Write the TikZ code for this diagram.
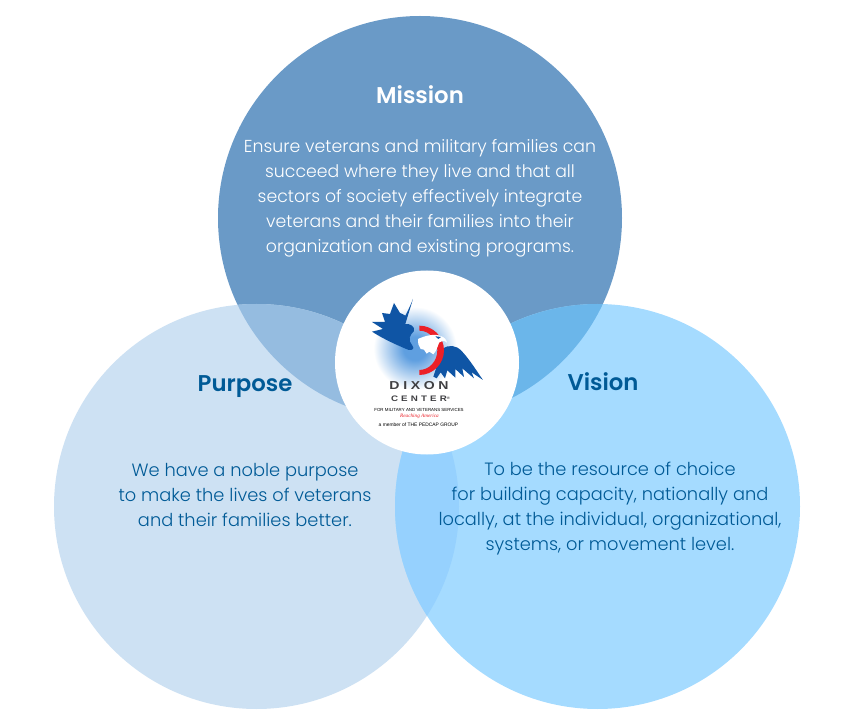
\documentclass[tikz,border=0pt]{standalone}
\usepackage{fontspec}
\setmainfont{Poppins Light}[BoldFont={Poppins SemiBold}]
\newfontfamily\logosans{Liberation Sans}
\newfontfamily\logoserif{Liberation Serif}
\definecolor{cMission}{HTML}{6A9AC7}
\definecolor{cPurpose}{HTML}{CDE1F3}
\definecolor{cVision}{HTML}{A5DBFF}
\definecolor{cPM}{HTML}{95BCE0}
\definecolor{cMV}{HTML}{6BB6EA}
\definecolor{cPV}{HTML}{96D1FE}
\definecolor{cNavy}{HTML}{005A96}
\definecolor{cBlue}{HTML}{0F55A5}
\definecolor{cRed}{HTML}{EC2027}
\definecolor{cGrey}{HTML}{3F3F42}
\definecolor{cGlow}{HTML}{5F9FE0}
\pgfdeclareradialshading{logoglow}{\pgfpoint{0bp}{0bp}}{color(0bp)=(cGlow); color(7bp)=(cGlow); color(25bp)=(white); color(50bp)=(white)}
\tikzset{
  heading/.style={font=\fontsize{22.8}{28}\selectfont\bfseries,inner sep=0pt},
  bodytext/.style={font=\fontsize{17.3}{25}\selectfont,align=center,inner sep=0pt},
  lowertext/.style={font=\fontsize{17.8}{25}\selectfont,align=center,inner sep=0pt,text=cNavy},
  logotext/.style={inner sep=0pt,text=cGrey},
}
\begin{document}
\begin{tikzpicture}[x=1pt,y=-1pt]
\useasboundingbox (0,0) rectangle (860,727);
\fill[white] (0,0) rectangle (860,727);
\fill[cMission] (420,218) circle[radius=202];
\fill[cPurpose] (256.5,506.5) circle[radius=202.5];
\fill[cVision] (597.5,506.5) circle[radius=202.5];
\begin{scope}
  \clip (256.5,506.5) circle[radius=202.5];
  \fill[cPM] (420,218) circle[radius=202];
  \fill[cPV] (597.5,506.5) circle[radius=202.5];
\end{scope}
\begin{scope}
  \clip (597.5,506.5) circle[radius=202.5];
  \fill[cMV] (420,218) circle[radius=202];
\end{scope}
\fill[white] (427,362.5) circle[radius=92];
% logo artwork, in the coordinates of a 3x crop
\begin{scope}[shift={(330,265)},x=0.3333pt,y=-0.3333pt]
  \shade[shading=logoglow] (255,250) circle[radius=125];
  % left wing
  \fill[cBlue] (249,102) .. controls (240,125) and (232,140) .. (226,152)
    .. controls (220,148) and (215,146) .. (210,144) -- (192,114) -- (180,147)
    -- (156,144) -- (165,171) -- (126,171) -- (159,192) -- (126,200)
    .. controls (160,222) and (200,240) .. (236,255)
    .. controls (250,256) and (254,250) .. (246,240)
    .. controls (232,225) and (240,210) .. (252,198)
    .. controls (256,185) and (240,175) .. (226,177)
    -- cycle;
  % right wing
  \fill[cBlue] (338,252) .. controls (355,238) and (378,240) .. (395,258)
    .. controls (420,285) and (440,318) .. (459,345)
    -- (425,322) -- (432,340) -- (397,310) -- (402,336) -- (376,312)
    -- (376,338) -- (352,316) -- (345,340) -- (332,322) -- (320,340)
    -- (310,335) -- cycle;
  % red ring
  \fill[cRed] (268,182) arc[start angle=-90,end angle=90,radius=74]
    -- (268,315) arc[start angle=90,end angle=-90,x radius=54,y radius=59] -- cycle;
  % head
  \fill[white] (264,222) .. controls (285,212) and (315,205) .. (332,213)
    .. controls (342,216) and (350,224) .. (351,233)
    .. controls (344,226) and (335,226) .. (328,232)
    .. controls (322,245) and (320,258) .. (310,268)
    -- (298,260) -- (290,266) -- (282,254) -- (272,252) -- (265,238) -- cycle;
  \fill[cBlue] (316,214) -- (333,216) -- (325,222) -- cycle;
\end{scope}
\node[logotext,transform shape,xscale=1.22,font=\logosans\bfseries\fontsize{11.5}{12}\selectfont\addfontfeature{LetterSpace=26}] (dixon) at (419,386) {DIXON};
\node[logotext,transform shape,xscale=1.22,font=\logosans\bfseries\fontsize{8}{9}\selectfont\addfontfeature{LetterSpace=32}] (center) at (420.5,399) {CENTER\raisebox{2pt}{\fontsize{3.5}{4}\selectfont ®}};
\node[logotext,font=\logosans\fontsize{4.4}{5}\selectfont,text=black] (tagline) at (419,409.5) {FOR MILITARY AND VETERANS SERVICES};
\node[logotext,font=\logoserif\itshape\fontsize{5.2}{6}\selectfont,text=cRed] (reaching) at (419.5,416) {Reaching America};
\node[logotext,font=\logosans\fontsize{4.9}{6}\selectfont,text=black] (member) at (418.5,424.5) {a member of THE PEDCAP GROUP};
\node[heading,text=white] (mission) at (420,95) {Mission};
\node[bodytext,text=white] (missiontext) at (420,198) {Ensure veterans and military families can\\succeed where they live and that all\\sectors of society effectively integrate\\veterans and their families into their\\organization and existing programs.};
\node[heading,text=cNavy] (purpose) at (245,387) {Purpose};
\node[lowertext] (purposetext) at (245,495) {We have a noble purpose\\to make the lives of veterans\\and their families better.};
\node[heading,text=cNavy] (vision) at (603,382) {Vision};
\node[lowertext] (visiontext) at (610,509) {To be the resource of choice\\for building capacity, nationally and\\locally, at the individual, organizational,\\systems, or movement level.};
\end{tikzpicture}
\end{document}
